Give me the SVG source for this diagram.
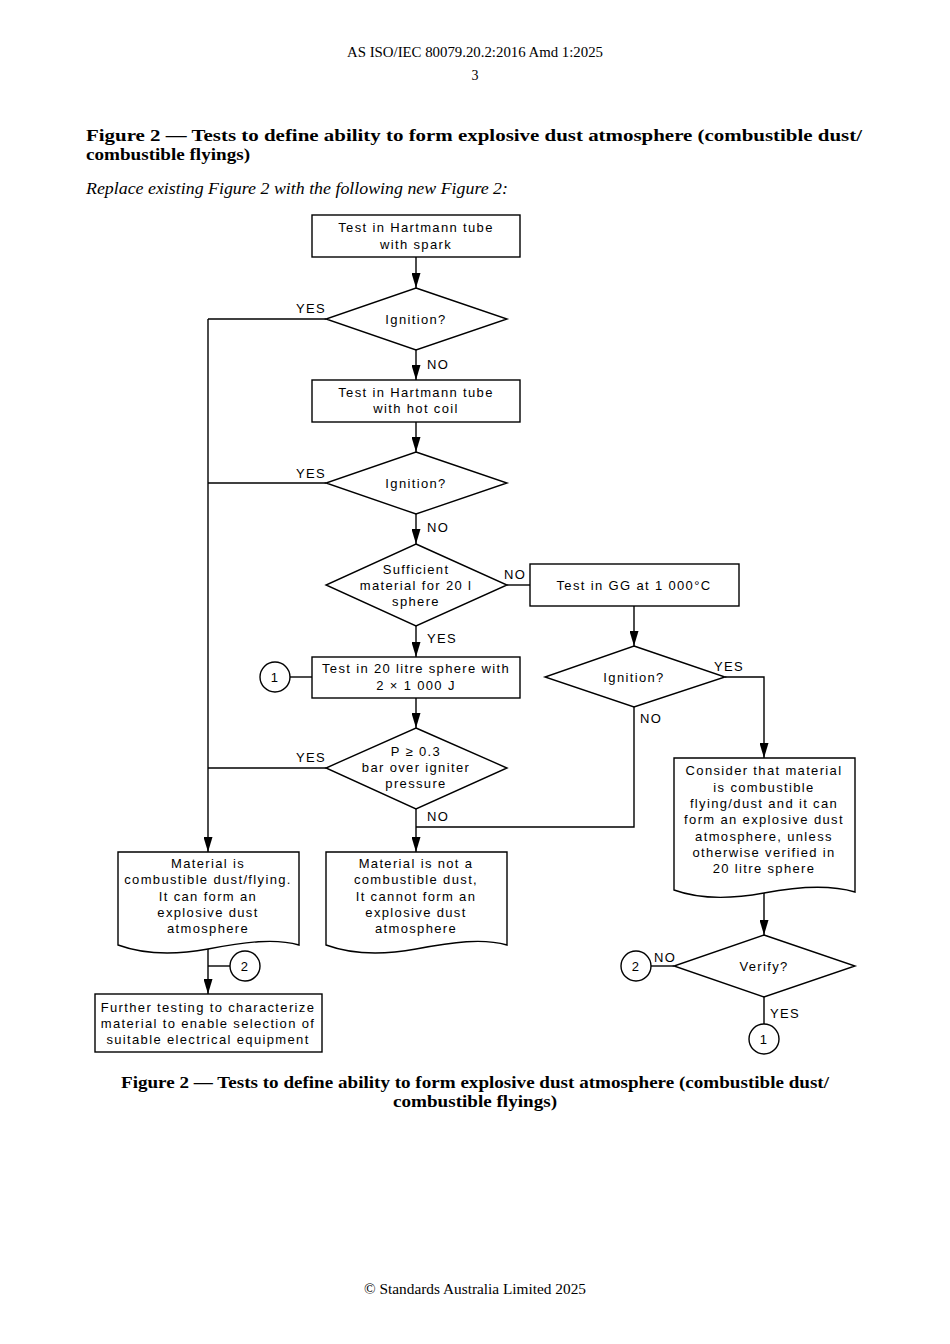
<svg xmlns="http://www.w3.org/2000/svg" width="950" height="1344" viewBox="0 0 950 1344">
<defs>
<marker id="arr" markerUnits="userSpaceOnUse" markerWidth="15" markerHeight="9" refX="15" refY="4.5" orient="auto" viewBox="0 0 15 9">
<path d="M0,0 L15,4.5 L0,9 Z" fill="#000"/>
</marker>
</defs>
<style>
.pg{font-family:"Liberation Serif","DejaVu Serif",serif;fill:#000}
.t{font-family:"Liberation Sans",Arial,sans-serif;font-size:13px;letter-spacing:1.35px;text-anchor:middle;dominant-baseline:central;fill:#000}
.s{fill:#fff;stroke:#000;stroke-width:1.4}
.c{fill:none;stroke:#000;stroke-width:1.4}
.a{fill:none;stroke:#000;stroke-width:1.4;marker-end:url(#arr)}
</style>
<rect width="950" height="1344" fill="#fff"/>
<g id="page">
<text class="pg" x="475" y="57" font-size="14" text-anchor="middle" textLength="256" lengthAdjust="spacingAndGlyphs">AS ISO/IEC 80079.20.2:2016 Amd 1:2025</text>
<text class="pg" x="475" y="80" font-size="14" text-anchor="middle">3</text>
<text class="pg" x="86" y="141" font-size="17" font-weight="bold" textLength="776" lengthAdjust="spacingAndGlyphs">Figure 2 — Tests to define ability to form explosive dust atmosphere (combustible dust/</text>
<text class="pg" x="86" y="160" font-size="17" font-weight="bold" textLength="164" lengthAdjust="spacingAndGlyphs">combustible flyings)</text>
<text class="pg" x="86" y="194" font-size="17" font-style="italic" textLength="422" lengthAdjust="spacingAndGlyphs">Replace existing Figure 2 with the following new Figure 2:</text>
<text class="pg" x="475" y="1088" font-size="17" font-weight="bold" text-anchor="middle" textLength="708" lengthAdjust="spacingAndGlyphs">Figure 2 — Tests to define ability to form explosive dust atmosphere (combustible dust/</text>
<text class="pg" x="475" y="1107" font-size="17" font-weight="bold" text-anchor="middle" textLength="164" lengthAdjust="spacingAndGlyphs">combustible flyings)</text>
<text class="pg" x="475" y="1294" font-size="14" text-anchor="middle" textLength="222" lengthAdjust="spacingAndGlyphs">© Standards Australia Limited 2025</text>
</g>
<g id="connectors">
<path class="a" d="M416,257 V288"/>
<path class="a" d="M416,350 V380"/>
<path class="a" d="M416,422 V452"/>
<path class="a" d="M416,514 V544"/>
<path class="a" d="M416,626 V657"/>
<path class="a" d="M416,698 V728"/>
<path class="a" d="M416,809 V852"/>
<path class="c" d="M326,319 H208"/>
<path class="c" d="M326,483 H208"/>
<path class="c" d="M326,768 H208"/>
<path class="a" d="M208,319 V852"/>
<path class="c" d="M507,585 H530"/>
<path class="a" d="M634,606 V646"/>
<path class="a" d="M725,677 H764 V758"/>
<path class="c" d="M634,707 V827 H416"/>
<path class="c" d="M290,677 H312"/>
<path class="a" d="M764,893 V935"/>
<path class="c" d="M651,966 H674"/>
<path class="c" d="M764,997 V1024"/>
<path class="a" d="M208,949 V994"/>
<path class="c" d="M208,966 H230"/>
<text class="t" x="311" y="308">YES</text>
<text class="t" x="438" y="364">NO</text>
<text class="t" x="311" y="473">YES</text>
<text class="t" x="438" y="527">NO</text>
<text class="t" x="515" y="574">NO</text>
<text class="t" x="442" y="638">YES</text>
<text class="t" x="729" y="666">YES</text>
<text class="t" x="651" y="718">NO</text>
<text class="t" x="311" y="757">YES</text>
<text class="t" x="438" y="816">NO</text>
<text class="t" x="665" y="957">NO</text>
<text class="t" x="785" y="1013">YES</text>
</g>
<g id="box-spark">
<rect class="s" x="312" y="215" width="208" height="42"/>
<text class="t" x="416" y="227">Test in Hartmann tube</text>
<text class="t" x="416" y="244">with spark</text>
</g>
<g id="dec-ignition1">
<polygon class="s" points="416,288 507,319 416,350 326,319"/>
<text class="t" x="416" y="319">Ignition?</text>
</g>
<g id="box-hotcoil">
<rect class="s" x="312" y="380" width="208" height="42"/>
<text class="t" x="416" y="392">Test in Hartmann tube</text>
<text class="t" x="416" y="408">with hot coil</text>
</g>
<g id="dec-ignition2">
<polygon class="s" points="416,452 507,483 416,514 326,483"/>
<text class="t" x="416" y="483">Ignition?</text>
</g>
<g id="dec-sufficient">
<polygon class="s" points="416,544 507,585 416,626 326,585"/>
<text class="t" x="416" y="569">Sufficient</text>
<text class="t" x="416" y="585">material for 20 l</text>
<text class="t" x="416" y="601">sphere</text>
</g>
<g id="box-gg">
<rect class="s" x="530" y="564" width="209" height="42"/>
<text class="t" x="634" y="585">Test in GG at 1 000°C</text>
</g>
<g id="dec-ignition3">
<polygon class="s" points="634,646 725,677 634,707 545,677"/>
<text class="t" x="634" y="677">Ignition?</text>
</g>
<g id="box-sphere">
<rect class="s" x="312" y="657" width="208" height="41"/>
<text class="t" x="416" y="668">Test in 20 litre sphere with</text>
<text class="t" x="416" y="685">2 × 1 000 J</text>
</g>
<g id="conn1-left">
<circle class="s" cx="275" cy="677" r="15"/>
<text class="t" x="275" y="677">1</text>
</g>
<g id="dec-pressure">
<polygon class="s" points="416,728 507,768 416,809 326,768"/>
<text class="t" x="416" y="751">P ≥ 0.3</text>
<text class="t" x="416" y="767">bar over igniter</text>
<text class="t" x="416" y="783">pressure</text>
</g>
<g id="doc-combustible">
<path class="s" d="M118,852 H299 V945 C275,938 245,942 208,949 C170,956 140,953 118,945 Z"/>
<text class="t" x="208" y="863">Material is</text>
<text class="t" x="208" y="879">combustible dust/flying.</text>
<text class="t" x="208" y="896">It can form an</text>
<text class="t" x="208" y="912">explosive dust</text>
<text class="t" x="208" y="928">atmosphere</text>
</g>
<g id="doc-notcombustible">
<path class="s" d="M326,852 H507 V945 C483,938 453,942 416,949 C378,956 348,953 326,945 Z"/>
<text class="t" x="416" y="863">Material is not a</text>
<text class="t" x="416" y="879">combustible dust,</text>
<text class="t" x="416" y="896">It cannot form an</text>
<text class="t" x="416" y="912">explosive dust</text>
<text class="t" x="416" y="928">atmosphere</text>
</g>
<g id="doc-consider">
<path class="s" d="M674,758 H855 V892 C831,885 801,886 764,893 C726,900 696,898 674,890 Z"/>
<text class="t" x="764" y="770">Consider that material</text>
<text class="t" x="764" y="787">is combustible</text>
<text class="t" x="764" y="803">flying/dust and it can</text>
<text class="t" x="764" y="819">form an explosive dust</text>
<text class="t" x="764" y="836">atmosphere, unless</text>
<text class="t" x="764" y="852">otherwise verified in</text>
<text class="t" x="764" y="868">20 litre sphere</text>
</g>
<g id="dec-verify">
<polygon class="s" points="764,935 855,966 764,997 674,966"/>
<text class="t" x="764" y="966">Verify?</text>
</g>
<g id="conn2-right">
<circle class="s" cx="636" cy="966" r="15"/>
<text class="t" x="636" y="966">2</text>
</g>
<g id="conn1-bottom">
<circle class="s" cx="764" cy="1039" r="15"/>
<text class="t" x="764" y="1039">1</text>
</g>
<g id="conn2-left">
<circle class="s" cx="245" cy="966" r="15"/>
<text class="t" x="245" y="966">2</text>
</g>
<g id="box-further">
<rect class="s" x="95" y="994" width="227" height="58"/>
<text class="t" x="208" y="1007">Further testing to characterize</text>
<text class="t" x="208" y="1023">material to enable selection of</text>
<text class="t" x="208" y="1039">suitable electrical equipment</text>
</g>
</svg>
